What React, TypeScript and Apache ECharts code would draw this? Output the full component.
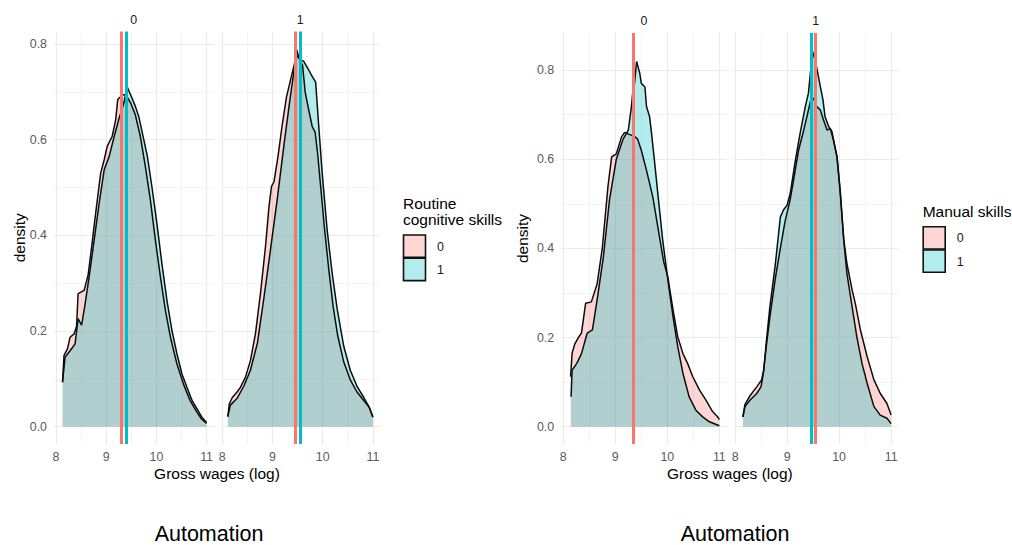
import React, { useEffect, useRef } from "react";
import * as echarts from "echarts";

// ---------- data ----------
const xMajor = [8, 9, 10, 11];
const xMinor = [8.5, 9.5, 10.5];
const yMajor = [0, 0.2, 0.4, 0.6, 0.8];
const yMinor = [0.1, 0.3, 0.5, 0.7];
const groupLabels = ["0", "1"];
const facetLabels = ["0", "1"];
const legendTitles = [["Routine", "cognitive skills"], ["Manual skills"]];
const axisTitleX = "Gross wages (log)";
const axisTitleY = "density";
const caption = "Automation";

// Routine cognitive skills — Automation facet 0, group 0 / group 1
const rcA0G0 = [[8.13,0.093],[8.16,0.149],[8.23,0.163],[8.28,0.187],[8.36,0.194],[8.41,0.21],[8.44,0.278],[8.56,0.285],[8.64,0.317],[8.71,0.376],[8.79,0.446],[8.89,0.53],[8.96,0.558],[9.02,0.586],[9.12,0.607],[9.19,0.642],[9.23,0.684],[9.29,0.69],[9.34,0.694],[9.39,0.694],[9.49,0.676],[9.58,0.652],[9.68,0.607],[9.78,0.544],[9.88,0.474],[9.98,0.39],[10.08,0.313],[10.18,0.243],[10.28,0.187],[10.41,0.131],[10.54,0.089],[10.67,0.055],[10.81,0.03],[10.9,0.016],[11.0,0.007]];
const rcA0G1 = [[8.13,0.093],[8.18,0.145],[8.23,0.152],[8.31,0.163],[8.38,0.173],[8.44,0.226],[8.51,0.212],[8.57,0.25],[8.66,0.313],[8.76,0.39],[8.86,0.467],[8.96,0.537],[9.06,0.565],[9.16,0.607],[9.25,0.642],[9.35,0.676],[9.42,0.71],[9.5,0.69],[9.58,0.67],[9.65,0.648],[9.72,0.614],[9.82,0.565],[9.91,0.502],[10.01,0.425],[10.11,0.341],[10.21,0.264],[10.31,0.201],[10.41,0.152],[10.51,0.11],[10.61,0.082],[10.71,0.055],[10.81,0.037],[10.9,0.021],[11.0,0.009]];
// Routine cognitive skills — Automation facet 1
const rcA1G0 = [[8.11,0.021],[8.14,0.048],[8.2,0.061],[8.29,0.072],[8.36,0.082],[8.46,0.103],[8.56,0.138],[8.66,0.194],[8.76,0.278],[8.86,0.376],[8.93,0.46],[8.98,0.502],[9.03,0.512],[9.11,0.565],[9.19,0.628],[9.28,0.69],[9.36,0.725],[9.44,0.76],[9.48,0.788],[9.55,0.765],[9.6,0.755],[9.65,0.7],[9.72,0.663],[9.79,0.628],[9.85,0.615],[9.9,0.57],[9.97,0.49],[10.04,0.41],[10.12,0.33],[10.21,0.25],[10.3,0.19],[10.42,0.135],[10.55,0.098],[10.68,0.073],[10.83,0.053],[10.93,0.04],[11.0,0.02]];
const rcA1G1 = [[8.11,0.021],[8.16,0.045],[8.3,0.06],[8.43,0.085],[8.56,0.118],[8.7,0.175],[8.83,0.27],[8.96,0.37],[9.1,0.48],[9.23,0.59],[9.33,0.67],[9.43,0.745],[9.47,0.778],[9.55,0.767],[9.62,0.764],[9.72,0.746],[9.79,0.732],[9.86,0.72],[9.92,0.63],[9.99,0.53],[10.09,0.41],[10.19,0.32],[10.29,0.245],[10.42,0.168],[10.55,0.118],[10.69,0.083],[10.82,0.061],[10.92,0.042],[11.0,0.02]];
// Manual skills — Automation facet 0
const msA0G0 = [[8.14,0.112],[8.17,0.165],[8.22,0.185],[8.29,0.2],[8.35,0.21],[8.43,0.277],[8.54,0.28],[8.65,0.32],[8.75,0.4],[8.86,0.54],[8.93,0.605],[9.02,0.612],[9.12,0.65],[9.18,0.66],[9.28,0.655],[9.36,0.652],[9.43,0.645],[9.5,0.62],[9.6,0.575],[9.72,0.516],[9.85,0.426],[9.93,0.37],[10.01,0.336],[10.11,0.262],[10.2,0.202],[10.3,0.164],[10.39,0.142],[10.49,0.112],[10.62,0.082],[10.74,0.06],[10.87,0.034],[10.97,0.022],[11.0,0.016]];
const msA0G1 = [[8.15,0.067],[8.17,0.127],[8.26,0.142],[8.35,0.164],[8.46,0.21],[8.56,0.217],[8.65,0.284],[8.77,0.38],[8.89,0.51],[9.02,0.6],[9.15,0.645],[9.25,0.665],[9.31,0.718],[9.34,0.755],[9.37,0.77],[9.41,0.819],[9.47,0.793],[9.5,0.77],[9.57,0.762],[9.6,0.718],[9.66,0.695],[9.69,0.665],[9.75,0.6],[9.82,0.52],[9.91,0.42],[10.01,0.33],[10.11,0.247],[10.2,0.18],[10.3,0.12],[10.42,0.067],[10.55,0.037],[10.68,0.022],[10.81,0.011],[11.0,0.002]];
// Manual skills — Automation facet 1
const msA1G0 = [[8.15,0.022],[8.19,0.05],[8.29,0.07],[8.42,0.09],[8.51,0.105],[8.55,0.127],[8.6,0.18],[8.67,0.247],[8.77,0.33],[8.87,0.4],[8.96,0.46],[9.06,0.51],[9.12,0.55],[9.22,0.62],[9.32,0.665],[9.39,0.7],[9.46,0.735],[9.51,0.736],[9.57,0.718],[9.64,0.71],[9.7,0.688],[9.77,0.665],[9.83,0.669],[9.89,0.643],[9.96,0.606],[10.02,0.53],[10.09,0.419],[10.15,0.366],[10.25,0.307],[10.31,0.277],[10.41,0.217],[10.54,0.157],[10.67,0.105],[10.79,0.075],[10.92,0.052],[11.0,0.026]];
const msA1G1 = [[8.15,0.022],[8.19,0.045],[8.29,0.06],[8.42,0.075],[8.5,0.09],[8.55,0.125],[8.6,0.19],[8.67,0.27],[8.77,0.36],[8.87,0.47],[8.93,0.486],[9.0,0.497],[9.06,0.523],[9.16,0.598],[9.25,0.658],[9.35,0.718],[9.41,0.748],[9.46,0.807],[9.49,0.841],[9.54,0.822],[9.59,0.793],[9.64,0.762],[9.69,0.733],[9.73,0.695],[9.8,0.673],[9.86,0.663],[9.9,0.64],[9.96,0.604],[10.02,0.528],[10.09,0.417],[10.15,0.344],[10.25,0.269],[10.34,0.202],[10.44,0.142],[10.54,0.097],[10.67,0.045],[10.79,0.026],[10.92,0.019],[11.0,0.007]];

// group means [group 0, group 1]
const rcMeansA0 = [9.29, 9.39];
const rcMeansA1 = [9.46, 9.56];
const msMeansA0 = [9.34, 9.35];
const msMeansA1 = [9.554, 9.458];

// ---------- styling ----------
const PINK = "#F8766D";
const CYAN = "#00BFC4";
const FONT = "'Liberation Sans', Arial, Helvetica, sans-serif";
const TICK_COLOR = "#5a5a5a";
const X_MIN = 7.96;
const X_MAX = 11.14;

const panels = [
  { left: 54, top: 31.5, width: 159.6, height: 412.4, yMin: -0.036, yMax: 0.826, g0: rcA0G0, g1: rcA0G1, means: rcMeansA0, showY: true, facet: 0 },
  { left: 220.3, top: 31.5, width: 159.6, height: 412.4, yMin: -0.036, yMax: 0.826, g0: rcA1G0, g1: rcA1G1, means: rcMeansA1, showY: false, facet: 1 },
  { left: 561.2, top: 33, width: 165.4, height: 411.1, yMin: -0.039, yMax: 0.883, g0: msA0G0, g1: msA0G1, means: msMeansA0, showY: true, facet: 0 },
  { left: 733, top: 33, width: 165.4, height: 411.1, yMin: -0.039, yMax: 0.883, g0: msA1G0, g1: msA1G1, means: msMeansA1, showY: false, facet: 1 },
];

function buildOption() {
  const grid: any[] = [];
  const xAxis: any[] = [];
  const yAxis: any[] = [];
  const series: any[] = [];
  const graphic: any[] = [];

  panels.forEach((p, i) => {
    grid.push({ left: p.left, top: p.top, width: p.width, height: p.height, containLabel: false });
    xAxis.push({
      type: "value", gridIndex: i, min: X_MIN, max: X_MAX, position: "bottom",
      axisLine: { show: false },
      axisTick: { show: false, customValues: xMajor },
      axisLabel: { customValues: xMajor, color: TICK_COLOR, fontSize: 12.4, fontFamily: FONT, margin: 7 },
      splitLine: { show: true, lineStyle: { color: "#ebebeb", width: 1.2 } },
    });
    xAxis.push({
      type: "value", gridIndex: i, min: X_MIN, max: X_MAX, position: "top",
      axisLine: { show: false },
      axisTick: { show: false, customValues: xMinor },
      axisLabel: { show: false },
      splitLine: { show: true, lineStyle: { color: "#f0f0f0", width: 0.8 } },
    });
    yAxis.push({
      type: "value", gridIndex: i, min: p.yMin, max: p.yMax, position: "left",
      axisLine: { show: false },
      axisTick: { show: false, customValues: yMajor },
      axisLabel: {
        show: p.showY, customValues: yMajor, color: TICK_COLOR, fontSize: 12.4, fontFamily: FONT, margin: 7,
        formatter: (v: number) => v.toFixed(1),
      },
      splitLine: { show: true, lineStyle: { color: "#ebebeb", width: 1.2 } },
    });
    yAxis.push({
      type: "value", gridIndex: i, min: p.yMin, max: p.yMax, position: "right",
      axisLine: { show: false },
      axisTick: { show: false, customValues: yMinor },
      axisLabel: { show: false },
      splitLine: { show: true, lineStyle: { color: "#f0f0f0", width: 0.8 } },
    });

    const xi = i * 2;
    const yi = i * 2;
    [p.g0, p.g1].forEach((d, g) => {
      series.push({
        type: "line", name: groupLabels[g], xAxisIndex: xi, yAxisIndex: yi,
        data: d, showSymbol: false, symbol: "none", smooth: false, silent: true,
        lineStyle: { color: "#0d0d0d", width: 1.5 },
        areaStyle: { color: g === 0 ? PINK : CYAN, opacity: 0.3, origin: "auto" },
        z: 2,
      });
    });
    series.push({
      type: "line", xAxisIndex: xi, yAxisIndex: yi,
      data: [[p.means[0], 0]], showSymbol: false, symbol: "none",
      lineStyle: { width: 0 }, silent: true, z: 4,
      markLine: {
        silent: true, symbol: ["none", "none"], animation: false,
        label: { show: false },
        lineStyle: { type: "solid", width: 3 },
        data: [
          { xAxis: p.means[1], lineStyle: { color: CYAN, type: "solid", width: 3 } },
          { xAxis: p.means[0], lineStyle: { color: PINK, type: "solid", width: 3 } },
        ],
      },
    });

    // strip label
    graphic.push({
      type: "text", x: p.left + p.width / 2, y: p.top - 12,
      style: { text: facetLabels[p.facet], fill: "#1a1a1a", font: `12.4px ${FONT}`, align: "center", verticalAlign: "middle" },
    });
  });

  // axis titles, legends & captions
  const charts = [
    { x0: panels[0].left, x1: panels[1].left + panels[1].width, yMid: (panels[0].top + panels[0].top + panels[0].height) / 2, yTitleX: 19, legendX: 403, legendTitleY: [203, 219], keyY: 235, capX: 209 },
    { x0: panels[2].left, x1: panels[3].left + panels[3].width, yMid: (panels[2].top + panels[2].top + panels[2].height) / 2, yTitleX: 522, legendX: 922.7, legendTitleY: [211], keyY: 226.7, capX: 735 },
  ];
  charts.forEach((c, ci) => {
    graphic.push({
      type: "text", x: (c.x0 + c.x1) / 2, y: 473,
      style: { text: axisTitleX, fill: "#000", font: `15.5px ${FONT}`, align: "center", verticalAlign: "middle" },
    });
    graphic.push({
      type: "text", x: c.yTitleX, y: c.yMid, rotation: Math.PI / 2,
      style: { text: axisTitleY, fill: "#000", font: `15.5px ${FONT}`, align: "center", verticalAlign: "middle" },
    });
    graphic.push({
      type: "text", x: c.capX, y: 534,
      style: { text: caption, fill: "#000", font: `21.5px ${FONT}`, align: "center", verticalAlign: "middle" },
    });
    legendTitles[ci].forEach((t, ti) => {
      graphic.push({
        type: "text", x: c.legendX, y: c.legendTitleY[ti],
        style: { text: t, fill: "#000", font: `15.5px ${FONT}`, align: "left", verticalAlign: "middle" },
      });
    });
    groupLabels.forEach((gl, gi) => {
      const ky = c.keyY + gi * 23.3;
      graphic.push({
        type: "rect", shape: { x: c.legendX + 0.5, y: ky, width: 22, height: 22.3 },
        style: { fill: gi === 0 ? PINK : CYAN, opacity: 1, fillOpacity: 0.3, stroke: "#111", lineWidth: 1.6 },
      });
      graphic.push({
        type: "text", x: c.legendX + 34, y: ky + 11.5,
        style: { text: gl, fill: "#1a1a1a", font: `12.4px ${FONT}`, align: "left", verticalAlign: "middle" },
      });
    });
  });

  return {
    animation: false,
    backgroundColor: "#ffffff",
    grid, xAxis, yAxis, series,
    graphic: { elements: graphic },
  };
}

export default function App() {
  const ref = useRef<HTMLDivElement>(null);
  useEffect(() => {
    if (!ref.current) return;
    const chart = echarts.init(ref.current, undefined, { renderer: "svg" });
    chart.setOption(buildOption() as any);
    return () => chart.dispose();
  }, []);
  return <div ref={ref} style={{ position: "fixed", left: 0, top: 0, width: 1012, height: 545, background: "#fff" }} />;
}
